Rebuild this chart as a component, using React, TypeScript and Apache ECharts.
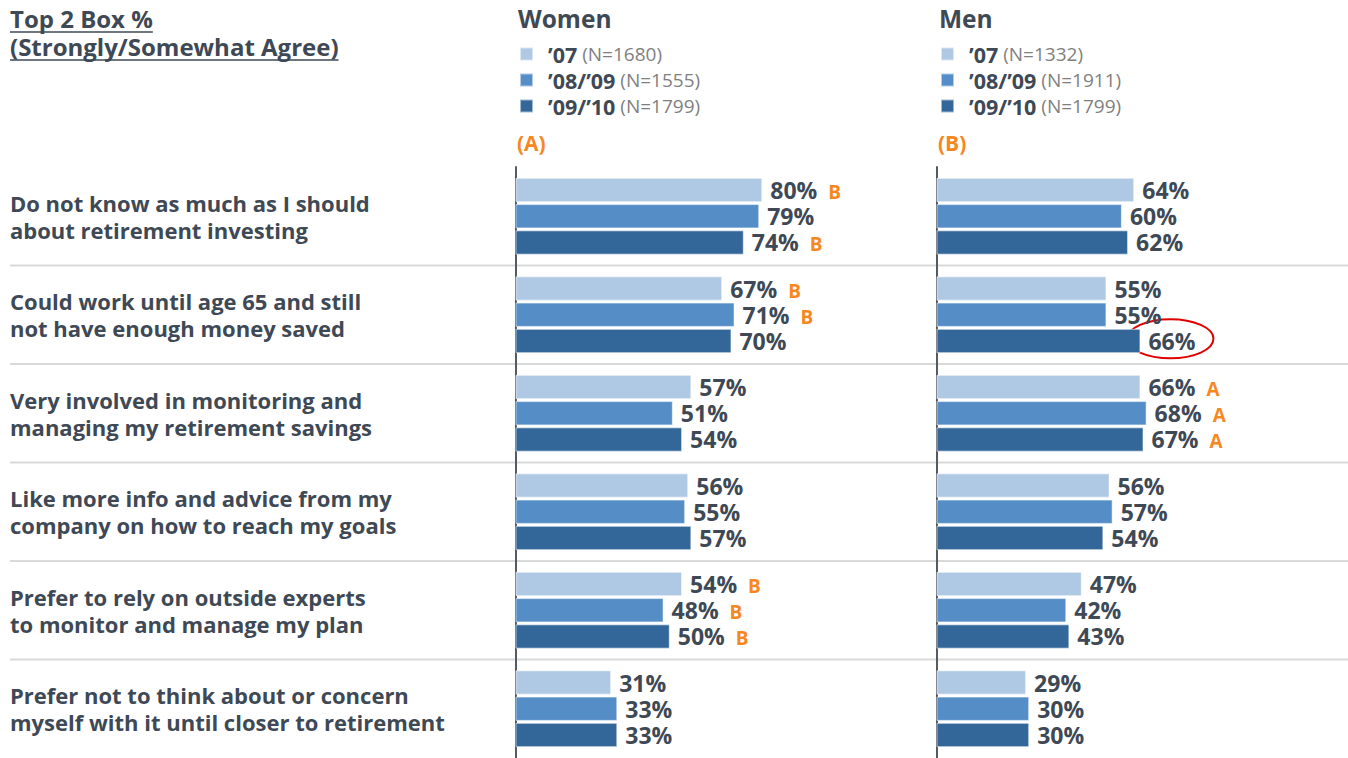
import React, { useEffect, useRef } from "react";
import * as echarts from "echarts";

const categories = [
  "Do not know as much as I should\nabout retirement investing",
  "Could work until age 65 and still\nnot have enough money saved",
  "Very involved in monitoring and\nmanaging my retirement savings",
  "Like more info and advice from my\ncompany on how to reach my goals",
  "Prefer to rely on outside experts\nto monitor and manage my plan",
  "Prefer not to think about or concern\nmyself with it until closer to retirement",
];
const seriesNames = ["\u201907", "\u201908/\u201909", "\u201909/\u201910"];
const womenN = ["(N=1680)", "(N=1555)", "(N=1799)"];
const menN = ["(N=1332)", "(N=1911)", "(N=1799)"];

const women07 = [80, 67, 57, 56, 54, 31];
const women0809 = [79, 71, 51, 55, 48, 33];
const women0910 = [74, 70, 54, 57, 50, 33];
const men07 = [64, 55, 66, 56, 47, 29];
const men0809 = [60, 55, 68, 57, 42, 30];
const men0910 = [62, 66, 67, 54, 43, 30];

const women07Sig = ["B", "B", "", "", "B", ""];
const women0809Sig = ["", "B", "", "", "B", ""];
const women0910Sig = ["B", "", "", "", "B", ""];
const men07Sig = ["", "", "A", "", "", ""];
const men0809Sig = ["", "", "A", "", "", ""];
const men0910Sig = ["", "", "A", "", "", ""];

const FONT = "'Open Sans', 'Noto Sans', sans-serif";
const TEXT = "#3E4955";
const ORANGE = "#F7871F";
const COLORS = ["#AFC9E4", "#558DC7", "#336699"];

function measure(text: string, font: string) {
  const c = document.createElement("canvas").getContext("2d")!;
  c.font = font;
  return c.measureText(text).width;
}

export default function App() {
  const ref = useRef<HTMLDivElement>(null);
  useEffect(() => {
    document.body.style.margin = "0";
    const chart = echarts.init(ref.current!, null, { renderer: "svg" });

    const mkSeries = (
      name: string,
      data: number[],
      sig: string[],
      color: string,
      idx: number
    ) => ({
      type: "bar",
      name,
      data,
      xAxisIndex: idx,
      yAxisIndex: idx,
      barWidth: 24.3,
      barGap: "8%",
      itemStyle: { color, borderColor: "rgba(255,255,255,0.55)", borderWidth: 1 },
      label: {
        show: true,
        position: "right",
        distance: 8,
        formatter: (p: any) =>
          sig[p.dataIndex]
            ? `{v|${p.value}%}{s|${sig[p.dataIndex]}}`
            : `{v|${p.value}%}`,
        rich: {
          v: {
            fontSize: 23,
            lineHeight: 24,
            fontWeight: "bold",
            color: TEXT,
            fontFamily: FONT,
          },
          s: {
            fontSize: 19,
            lineHeight: 20,
            fontWeight: "bold",
            color: ORANGE,
            fontFamily: FONT,
            padding: [4, 0, 0, 11],
          },
        },
      },
    });

    const mkLegend = (left: number, nList: string[]) => ({
      left,
      top: 43,
      padding: 0,
      orient: "vertical",
      icon: "rect",
      itemWidth: 13,
      itemHeight: 13,
      itemGap: 4,
      selectedMode: false,
      data: seriesNames,
      formatter: (name: string) =>
        `{b|${name}}{n| ${nList[seriesNames.indexOf(name)]}}`,
      textStyle: {
        lineHeight: 20,
        rich: {
          b: {
            fontSize: 21.5,
            lineHeight: 20,
            fontWeight: "bold",
            color: TEXT,
            fontFamily: FONT,
            padding: [0, 0, 0, 10],
          },
          n: { fontSize: 19, lineHeight: 20, color: "#7F7F7F", fontFamily: FONT },
        },
      },
    });

    const yAxisBase = {
      type: "category",
      inverse: true,
      data: categories,
      axisTick: { show: false },
      axisLine: { show: true, lineStyle: { color: "#555B63", width: 2 } },
      splitLine: { show: false },
    };

    chart.setOption({
      animation: false,
      grid: [
        { left: 515.5, width: 308.5, top: 167, height: 594 },
        { left: 936.5, width: 309, top: 167, height: 594 },
        { left: 10, right: 0, top: 167, height: 598 },
      ],
      xAxis: [
        { type: "value", gridIndex: 0, min: 0, max: 100, show: false },
        { type: "value", gridIndex: 1, min: 0, max: 100, show: false },
        { type: "value", gridIndex: 2, min: 0, max: 100, show: false },
      ],
      yAxis: [
        {
          ...yAxisBase,
          gridIndex: 0,
          axisLabel: {
            show: true,
            align: "left",
            margin: 505.5,
            fontSize: 22,
            fontWeight: "bold",
            lineHeight: 27,
            color: TEXT,
            fontFamily: FONT,
          },
        },
        { ...yAxisBase, gridIndex: 1, axisLabel: { show: false } },
        { type: "category", inverse: true, data: categories, gridIndex: 2, show: false },
      ],
      legend: [mkLegend(519, womenN), mkLegend(940, menN)],
      series: [
        mkSeries(seriesNames[0], women07, women07Sig, COLORS[0], 0),
        mkSeries(seriesNames[1], women0809, women0809Sig, COLORS[1], 0),
        mkSeries(seriesNames[2], women0910, women0910Sig, COLORS[2], 0),
        mkSeries(seriesNames[0], men07, men07Sig, COLORS[0], 1),
        mkSeries(seriesNames[1], men0809, men0809Sig, COLORS[1], 1),
        mkSeries(seriesNames[2], men0910, men0910Sig, COLORS[2], 1),
      ],
    });

    const yC = (i: number, axis: number) =>
      chart.convertToPixel({ yAxisIndex: axis } as any, categories[i]) as number;
    const titleFont = `bold 24px ${FONT}`;
    const t1 = "Top 2 Box %";
    const t2 = "(Strongly/Somewhat Agree)";
    const graphics: any[] = [];
    [t1, t2].forEach((t, i) => {
      const y = 18 + i * 28;
      graphics.push({
        type: "text",
        x: 10,
        y,
        style: {
          text: t,
          font: titleFont,
          fill: TEXT,
          verticalAlign: "middle",
        },
      });
      graphics.push({
        type: "line",
        shape: { x1: 10, y1: y + 14, x2: 10 + measure(t, titleFont), y2: y + 14 },
        style: { stroke: TEXT, lineWidth: 1.5 },
      });
    });
    [
      { t: "Women", x: 518, c: TEXT, y: 18, s: 24.5 },
      { t: "Men", x: 939, c: TEXT, y: 18, s: 24.5 },
      { t: "(A)", x: 517, c: ORANGE, y: 143, s: 21 },
      { t: "(B)", x: 938, c: ORANGE, y: 143, s: 21 },
    ].forEach((o) =>
      graphics.push({
        type: "text",
        x: o.x,
        y: o.y,
        style: {
          text: o.t,
          font: `bold ${o.s}px ${FONT}`,
          fill: o.c,
          verticalAlign: "middle",
        },
      })
    );
    for (let i = 1; i < categories.length; i++) {
      const y = (yC(i - 1, 2) + yC(i, 2)) / 2;
      graphics.push({
        type: "line",
        z: -1,
        shape: { x1: 10, y1: y, x2: 1348, y2: y },
        style: { stroke: "#D9D9D9", lineWidth: 2 },
      });
    }
    const hx = chart.convertToPixel({ xAxisIndex: 1 } as any, men0910[1]) as number;
    const hy = yC(1, 1) + 26;
    graphics.push({
      type: "ellipse",
      shape: { cx: hx + 30, cy: hy - 2, rx: 43, ry: 19.5 },
      style: { fill: "none", stroke: "#E00000", lineWidth: 2 },
    });
    chart.setOption({ graphic: graphics });

    return () => chart.dispose();
  }, []);
  return <div ref={ref} style={{ width: 1348, height: 758 }} />;
}
